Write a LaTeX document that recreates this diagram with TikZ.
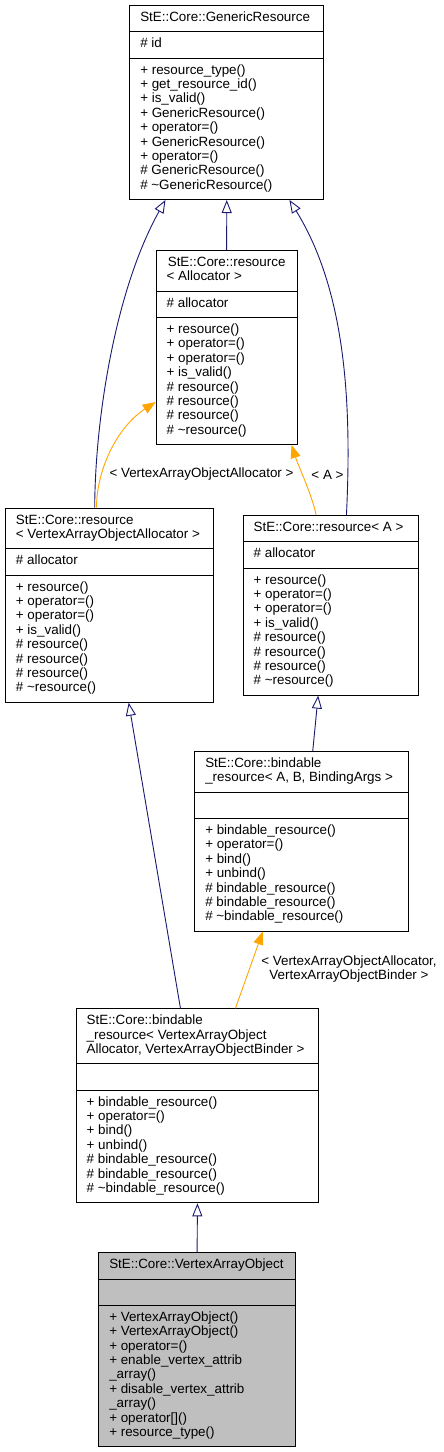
\documentclass[tikz,border=0pt]{standalone}
\usepackage{fontspec}
\setmainfont{Liberation Sans}
\usetikzlibrary{shapes.multipart, arrows.meta}
\hyphenpenalty=10000
\exhyphenpenalty=10000

\definecolor{edgeblue}{RGB}{25,25,112}
\definecolor{edgeorange}{RGB}{255,165,0}
\definecolor{boxgray}{RGB}{191,191,191}

\tikzstyle{umlclass} = [rectangle split, rectangle split parts=3, draw=black, line width=0.9pt, anchor=north west, align=flush left, inner xsep=10.5pt, inner ysep=5.5pt, font=\fontsize{13.4}{14.4}\selectfont, execute at begin node=\strut, execute at end node=\strut]
\tikzstyle{inherit} = [edgeblue, line width=0.9pt, -{Triangle[open, length=13pt, width=10pt]}]
\tikzstyle{template} = [edgeorange, line width=0.9pt, -{Triangle[length=13pt, width=10pt]}]
\tikzstyle{tlabel} = [font=\fontsize{13.4}{14.4}\selectfont, align=center, inner sep=0pt]

\begin{document}
\begin{tikzpicture}[x=1pt, y=-1pt]
\useasboundingbox (0,0) rectangle (444,1452);

% Base class
\node (gr) [umlclass, text width=173] at (129.3,5) {StE::Core::GenericResource%
  \nodepart{two} \# id%
  \nodepart{three} + resource\_type()\\ + get\_resource\_id()\\ + is\_valid()\\ + GenericResource()\\ + operator=()\\ + GenericResource()\\ + operator=()\\ \# GenericResource()\\ \# \textasciitilde GenericResource()};

% resource templates
\node (ra) [umlclass, text width=120] at (155.7,250) {\centering StE::Core::resource\\ < Allocator >%
  \nodepart{two} \# allocator%
  \nodepart{three} + resource()\\ + operator=()\\ + operator=()\\ + is\_valid()\\ \# resource()\\ \# resource()\\ \# resource()\\ \# \textasciitilde resource()};
\node (rv) [umlclass, text width=187.3] at (5,507.7) {StE::Core::resource\\ <~VertexArrayObjectAllocator~>%
  \nodepart{two} \# allocator%
  \nodepart{three} + resource()\\ + operator=()\\ + operator=()\\ + is\_valid()\\ \# resource()\\ \# resource()\\ \# resource()\\ \# \textasciitilde resource()};
\node (rA) [umlclass, text width=154] at (242.7,515) {StE::Core::resource<~A~>%
  \nodepart{two} \# allocator%
  \nodepart{three} + resource()\\ + operator=()\\ + operator=()\\ + is\_valid()\\ \# resource()\\ \# resource()\\ \# resource()\\ \# \textasciitilde resource()};

% bindable templates
\node (bA) [umlclass, text width=193] at (194.3,751) {StE::Core::bindable\\ \_resource<~A,~B,~BindingArgs~>%
  \nodepart{two} \mbox{}%
  \nodepart{three} + bindable\_resource()\\ + operator=()\\ + bind()\\ + unbind()\\ \# bindable\_resource()\\ \# bindable\_resource()\\ \# \textasciitilde bindable\_resource()};
\node (bv) [umlclass, text width=221.6] at (75.7,1008.3) {StE::Core::bindable\\ \_resource<~VertexArrayObject\\ Allocator,~VertexArrayObjectBinder~>%
  \nodepart{two} \mbox{}%
  \nodepart{three} + bindable\_resource()\\ + operator=()\\ + bind()\\ + unbind()\\ \# bindable\_resource()\\ \# bindable\_resource()\\ \# \textasciitilde bindable\_resource()};

% Documented class
\node (vao) [umlclass, fill=boxgray, text width=175.7] at (98.3,1252.3) {StE::Core::VertexArrayObject%
  \nodepart{two} \mbox{}%
  \nodepart{three} + VertexArrayObject()\\ + VertexArrayObject()\\ + operator=()\\ + enable\_vertex\_attrib\\ \_array()\\ + disable\_vertex\_attrib\\ \_array()\\ + operator[]()\\ + resource\_type()};

% Template argument labels
\node (l1) [tlabel] at (201.5,474.5) {< VertexArrayObjectAllocator >};
\node (l2) [tlabel] at (327.5,475) {< A >};
\node (l3) [tlabel] at (349,969) {< VertexArrayObjectAllocator,\\ VertexArrayObjectBinder >};

% Connecting arrows
\draw [inherit] (ra.north) -- (gr.south);
\draw [inherit] ([xshift=-14.9pt]rv.north) .. controls (95,420) and (115,290) .. ([xshift=-61.3pt]gr.south);
\draw [inherit] ([xshift=15.8pt]rA.north) .. controls (352,400) and (345,290) .. ([xshift=62.7pt]gr.south);
\draw [template] ([xshift=-13.2pt]rv.north) .. controls (97,465) and (120,425) .. ([yshift=43pt]ra.south west);
\draw [template] ([xshift=-14.5pt]rA.north) .. controls (312,495) and (298,465) .. ([xshift=-6pt]ra.south east);
\draw [inherit] ([xshift=11pt]bA.north) -- ([xshift=-12.5pt]rA.south);
\draw [inherit] ([xshift=-17pt]bv.north) -- ([xshift=19.1pt]rv.south);
\draw [template] ([xshift=38pt]bv.north) -- ([xshift=-39pt]bA.south);
\draw [inherit] (vao.north) -- (bv.south);

\end{tikzpicture}
\end{document}
